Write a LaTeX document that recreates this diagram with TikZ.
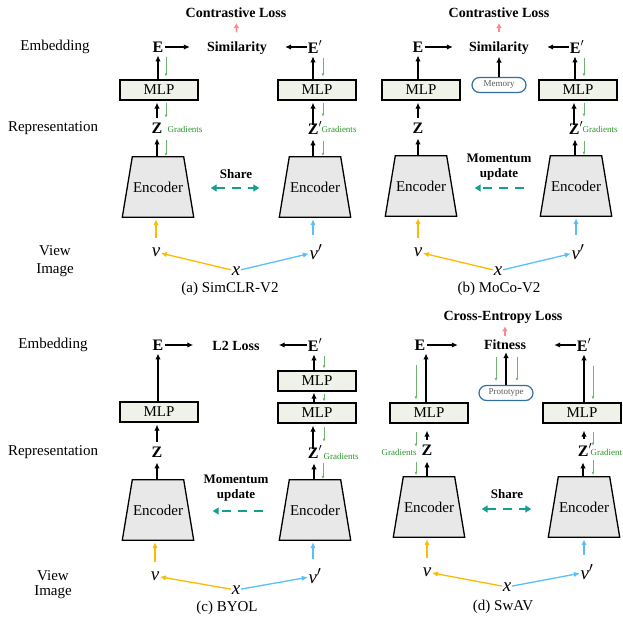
\documentclass[tikz,border=0pt]{standalone}
\usepackage{fontspec}
\setmainfont{Liberation Serif}
\usetikzlibrary{arrows.meta,calc}
\pgfdeclarelayer{background}
\pgfsetlayers{background,main}
\definecolor{ylw}{RGB}{255,185,0}
\definecolor{blu}{RGB}{90,190,250}
\definecolor{tealc}{RGB}{20,160,145}
\definecolor{pnkc}{RGB}{248,140,140}
\definecolor{grnar}{RGB}{110,180,110}
\definecolor{grntx}{RGB}{40,150,40}
\definecolor{encfill}{RGB}{232,232,232}
\definecolor{mlpfill}{RGB}{238,242,233}
\definecolor{pillc}{RGB}{50,110,160}
\definecolor{pilltx}{RGB}{90,90,90}
\newcommand\encshape[1]{%
  \begin{pgfonlayer}{background}
    \draw[encline] (#1.south west) -- (#1.south east) -- ($(#1.north east)+(-10,0)$) -- ($(#1.north west)+(10,0)$) -- cycle;
  \end{pgfonlayer}}
\begin{document}
\begin{tikzpicture}[x=1pt,y=-1pt,
  lbl/.style={font=\fontsize{15}{17}\selectfont, inner sep=1pt},
  bt/.style={font=\fontsize{14}{15}\selectfont\bfseries, inner sep=1pt},
  mt/.style={font=\fontsize{13}{15}\selectfont\bfseries, inner sep=1pt, align=center},
  vec/.style={font=\fontsize{16}{18}\selectfont\bfseries, inner sep=1pt},
  var/.style={font=\fontsize{19}{20}\selectfont\itshape, inner sep=0.5pt},
  grad/.style={font=\fontsize{9}{10}\selectfont, text=grntx, inner sep=0.5pt},
  mlp/.style={draw, line width=1.3pt, fill=mlpfill, minimum width=78pt, minimum height=20pt, inner sep=0pt, font=\fontsize{15}{17}\selectfont},
  enc/.style={rectangle, minimum width=71pt, minimum height=60pt, inner sep=0pt, font=\fontsize{15}{17}\selectfont},
  encline/.style={draw, line width=1.3pt, fill=encfill, line join=miter},
  pill/.style={draw=pillc, line width=1.2pt, rounded corners=7.5pt, minimum width=54pt, minimum height=15pt, inner sep=0pt, text=pilltx, font=\fontsize{9}{10}\selectfont},
  blk/.style={-{Latex[length=6pt,width=5.5pt]}, line width=1.3pt},
  grn/.style={-{Latex[length=3pt,width=3pt]}, line width=0.6pt, draw=grnar},
  ylwa/.style={-{Latex[length=6pt,width=5.5pt]}, line width=1.3pt, draw=ylw},
  blua/.style={-{Latex[length=6pt,width=5.5pt]}, line width=1.3pt, draw=blu},
  pnka/.style={-{Latex[length=5pt,width=6pt]}, line width=1.6pt, draw=pnkc},
  shr/.style={{Triangle[length=6pt,width=7pt]}-{Triangle[length=6pt,width=7pt]}, dash pattern=on 9pt off 7pt, line width=1.3pt, draw=tealc},
  mom/.style={-{Triangle[length=6pt,width=7pt]}, dash pattern=on 9pt off 7pt, line width=1.3pt, draw=tealc}
]
\useasboundingbox (0,0) rectangle (623,618);

% ================= (a) SimCLR-V2 =================
\node[lbl] (embA) at (55,47) {Embedding};
\node[lbl] (repA) at (53,128) {Representation};
\node[lbl] (viewA) at (55,251) {View};
\node[lbl] (imgA) at (55,270) {Image};

\node[bt] (lossA) at (236,13) {Contrastive Loss};
\node[bt] (simA) at (237,48) {Similarity};
\node[vec] (eA) at (158,47) {E};
\node[vec] (epA) at (315,47) {E$'$};
\draw[blk, shorten >=16pt] (eA.east) -- (eA.east -| simA.west);
\draw[blk, shorten >=17pt] (epA.west) -- (epA.west -| simA.east);
\draw[pnka, shorten <=8pt, shorten >=4pt] (simA.north) -- (lossA.south);

\node[mlp] (mlpA1) at (159,90) {MLP};
\node[mlp] (mlpA2) at (317,90) {MLP};
\node[vec] (zA) at (157,128) {Z};
\node[grad] (gA1) at (185,129) {Gradients};
\node[vec] (zpA) at (315,128) {Z$'$};
\node[grad] (gA2) at (339,129) {Gradients};
\node[enc] (encA1) at (158,187) {Encoder}; \encshape{encA1}
\node[enc] (encA2) at (315,187) {Encoder}; \encshape{encA2}
\node[bt, font=\fontsize{13}{15}\selectfont\bfseries] (shareA) at (236,174) {Share};
\draw[shr, shorten <=17pt, shorten >=20pt] ($(encA1.east)+(0,1)$) -- ($(encA2.west)+(0,1)$);

\draw[blk] (mlpA1.north -| eA) -- ($(eA.south)+(0,2)$);
\draw[blk, shorten <=4pt, shorten >=2pt] (zA.north) -- (zA.north |- mlpA1.south);
\draw[blk, shorten >=4pt] (encA1.north -| zA) -- (zA.south);
\draw[grn] ($(eA.south)+(8,4)$) -- ($(eA.south |- mlpA1.north)+(8,-3)$);
\draw[grn] ($(mlpA1.south)+(7,2)$) -- ($(mlpA1.south |- zA.north)+(7,-4)$);
\draw[grn] ($(zA.south)+(9,6)$) -- ($(zA.south |- encA1.north)+(9,-1)$);

\draw[blk] ($(mlpA2.north)+(-4,0)$) -- ($(mlpA2.north |- epA.south)+(-4,2)$);
\draw[blk] ($(zpA.north)+(-2,4)$) -- ($(zpA.north |- mlpA2.south)+(-2,2)$);
\draw[blk] ($(encA2.north)+(-2,0)$) -- ($(encA2.north |- zpA.south)+(-2,4)$);
\draw[grn] ($(epA.south)+(8,4)$) -- ($(epA.south |- mlpA2.north)+(8,-3)$);
\draw[grn] ($(mlpA2.south)+(6,2)$) -- ($(mlpA2.south |- zpA.north)+(6,-4)$);
\draw[grn] ($(zpA.south)+(8,6)$) -- ($(zpA.south |- encA2.north)+(8,-1)$);

\node[var] (vA) at (156,252) {v};
\node[var] (vpA) at (316,252) {v$'$};
\node[var] (xA) at (236,271) {x};
\draw[ylwa, shorten <=9pt, shorten >=2pt] (vA.north) -- (vA.north |- encA1.south);
\draw[blua, shorten <=9pt, shorten >=2pt] ($(vpA.north)+(-3,0)$) -- ($(vpA.north |- encA2.south)+(-3,0)$);
\draw[ylwa] (xA) -- (vA);
\draw[blua] (xA) -- (vpA);
\node[lbl] (capA) at (230,289) {(a) SimCLR-V2};

% ================= (b) MoCo-V2 =================
\node[bt] (lossB) at (499,13) {Contrastive Loss};
\node[bt] (simB) at (499,48) {Similarity};
\node[vec] (eB) at (418,47) {E};
\node[vec] (epB) at (577,47) {E$'$};
\draw[blk, shorten >=15pt] (eB.east) -- (eB.east -| simB.west);
\draw[blk, shorten >=17pt] (epB.west) -- (epB.west -| simB.east);
\draw[pnka, shorten <=8pt, shorten >=4pt] (simB.north) -- (lossB.south);

\node[mlp] (mlpB1) at (421,90) {MLP};
\node[mlp] (mlpB2) at (578,90) {MLP};
\node[pill] (memB) at (499,85) {Memory};
\draw[blk] (memB.north) -- ($(memB.north |- simB.south)+(0,1)$);
\node[vec] (zB) at (418,128) {Z};
\node[vec] (zpB) at (576,128) {Z$'$};
\node[grad] (gB2) at (600,129) {Gradients};
\node[enc] (encB1) at (421,186) {Encoder}; \encshape{encB1}
\node[enc] (encB2) at (576,186) {Encoder}; \encshape{encB2}
\node[mt] (momB) at (499,167) {Momentum\\update};
\draw[mom, shorten <=16pt, shorten >=18pt] ($(encB2.west)+(0,2)$) -- ($(encB1.east)+(0,2)$);

\draw[blk] (mlpB1.north -| eB) -- ($(eB.south)+(0,2)$);
\draw[blk, shorten <=4pt, shorten >=2pt] (zB.north) -- (zB.north |- mlpB1.south);
\draw[blk, shorten >=4pt] (encB1.north -| zB) -- (zB.south);

\draw[blk] ($(mlpB2.north)+(-3,0)$) -- ($(mlpB2.north |- epB.south)+(-3,2)$);
\draw[blk] ($(zpB.north)+(-2,4)$) -- ($(zpB.north |- mlpB2.south)+(-2,2)$);
\draw[blk] ($(encB2.north)+(-1,0)$) -- ($(encB2.north |- zpB.south)+(-1,4)$);
\draw[grn] ($(epB.south)+(7,4)$) -- ($(epB.south |- mlpB2.north)+(7,-3)$);
\draw[grn] ($(mlpB2.south)+(6,2)$) -- ($(mlpB2.south |- zpB.north)+(6,-4)$);
\draw[grn] ($(zpB.south)+(8,6)$) -- ($(zpB.south |- encB2.north)+(8,-1)$);

\node[var] (vB) at (418,252) {v};
\node[var] (vpB) at (578,252) {v$'$};
\node[var] (xB) at (498,271) {x};
\draw[ylwa, shorten <=9pt, shorten >=2pt] (vB.north) -- (vB.north |- encB1.south);
\draw[blua, shorten <=9pt, shorten >=2pt] ($(vpB.north)+(-2,0)$) -- ($(vpB.north |- encB2.south)+(-2,0)$);
\draw[ylwa] (xB) -- (vB);
\draw[blua] (xB) -- (vpB);
\node[lbl] (capB) at (499,289) {(b) MoCo-V2};

% ================= (c) BYOL =================
\node[lbl] (embC) at (53,345) {Embedding};
\node[lbl] (repC) at (53,452) {Representation};
\node[lbl] (viewC) at (53,576) {View};
\node[lbl] (imgC) at (53,592) {Image};

\node[vec] (eC) at (158,345) {E};
\node[bt] (l2C) at (236,346) {L2 Loss};
\node[vec] (epC) at (315,345) {E$'$};
\draw[blk, shorten >=18pt] (eC.east) -- (eC.east -| l2C.west);
\draw[blk, shorten >=18pt] (epC.west) -- (epC.west -| l2C.east);

\node[mlp] (mlpC1) at (159,412) {MLP};
\node[mlp] (mlpC2) at (317,381) {MLP};
\node[mlp] (mlpC3) at (317,413) {MLP};
\node[vec] (zC) at (157,452) {Z};
\node[vec] (zpC) at (315,452) {Z$'$};
\node[grad] (gC) at (341,456) {Gradients};
\node[enc] (encC1) at (158,510) {Encoder}; \encshape{encC1}
\node[enc] (encC2) at (315,510) {Encoder}; \encshape{encC2}
\node[mt] (momC) at (236,488) {Momentum\\update};
\draw[mom, shorten <=16pt, shorten >=19pt] ($(encC2.west)+(0,1)$) -- ($(encC1.east)+(0,1)$);

\draw[blk] (mlpC1.north -| eC) -- ($(eC.south)+(0,2)$);
\draw[blk, shorten <=4pt, shorten >=2pt] (zC.north) -- (zC.north |- mlpC1.south);
\draw[blk, shorten >=4pt] (encC1.north -| zC) -- (zC.south);

\draw[blk] ($(mlpC2.north)+(-3,0)$) -- ($(mlpC2.north |- epC.south)+(-3,2)$);
\draw[blk] ($(mlpC3.north)+(-3,0)$) -- ($(mlpC3.north |- mlpC2.south)+(-3,1)$);
\draw[blk] ($(zpC.north)+(-2,4)$) -- ($(zpC.north |- mlpC3.south)+(-2,2)$);
\draw[blk] ($(encC2.north)+(-1,0)$) -- ($(encC2.north |- zpC.south)+(-1,4)$);
\draw[grn] ($(epC.south)+(9,4)$) -- ($(epC.south |- mlpC2.north)+(9,-2)$);
\draw[grn] ($(mlpC2.south)+(7,2)$) -- ($(mlpC2.south |- mlpC3.north)+(7,-1)$);
\draw[grn] ($(mlpC3.south)+(7,3)$) -- ($(mlpC3.south |- zpC.north)+(7,-3)$);
\draw[grn] ($(zpC.south)+(8,4)$) -- ($(zpC.south |- encC2.north)+(8,-1)$);

\node[var] (vC) at (155,576) {v};
\node[var] (vpC) at (315,576) {v$'$};
\node[var] (xC) at (236,590) {x};
\draw[ylwa, shorten <=9pt, shorten >=2pt] (vC.north) -- (vC.north |- encC1.south);
\draw[blua, shorten <=9pt, shorten >=2pt] ($(vpC.north)+(-2,0)$) -- ($(vpC.north |- encC2.south)+(-2,0)$);
\draw[ylwa] (xC) -- (vC);
\draw[blua] (xC) -- (vpC);
\node[lbl] (capC) at (227,608) {(c) BYOL};

% ================= (d) SwAV =================
\node[bt] (ceD) at (503,317) {Cross-Entropy Loss};
\node[bt] (fitD) at (505,345) {Fitness};
\node[vec] (eD) at (420,345) {E};
\node[vec] (epD) at (584,345) {E$'$};
\draw[blk, shorten >=25pt] (eD.east) -- (eD.east -| fitD.west);
\draw[blk, shorten >=27pt] (epD.west) -- (epD.west -| fitD.east);
\draw[pnka, shorten <=3pt, shorten >=2pt] (fitD.north) -- (fitD.north |- ceD.south);

\node[pill] (protoD) at (506,393) {Prototype};
\draw[blk] (protoD.north) -- ($(protoD.north |- fitD.south)+(0,1)$);
\draw[grn] ($(fitD.south)+(-9,6)$) -- ($(fitD.south |- protoD.north)+(-9,-4)$);
\draw[grn] ($(fitD.south)+(12,6)$) -- ($(fitD.south |- protoD.north)+(12,-4)$);

\node[mlp] (mlpD1) at (429,413) {MLP};
\node[mlp] (mlpD2) at (582,413) {MLP};
\node[vec] (zD) at (427,450) {Z};
\node[grad] (gD1) at (399,452) {Gradients};
\node[vec] (zpD) at (585,450) {Z$'$};
\node[grad, anchor=west] (gD2) at (590,452) {Gradient};
\node[enc] (encD1) at (429,507) {Encoder}; \encshape{encD1}
\node[enc] (encD2) at (584,507) {Encoder}; \encshape{encD2}
\node[bt, font=\fontsize{13}{15}\selectfont\bfseries] (shareD) at (507,494) {Share};
\draw[shr, shorten <=17pt, shorten >=17pt] ($(encD1.east)+(0,2)$) -- ($(encD2.west)+(0,2)$);

\draw[blk] ($(mlpD1.north)+(-3,0)$) -- ($(mlpD1.north |- eD.south)+(-3,2)$);
\draw[grn] ($(eD.south)+(-4,14)$) -- ($(eD.south |- mlpD1.north)+(-4,-3)$);
\draw[blk, shorten <=4pt] (zD.north) -- ($(zD.north |- mlpD1.south)+(0,7)$);
\draw[grn] ($(mlpD1.south)+(-13,8)$) -- ($(mlpD1.south |- zD.north)+(-13,3)$);
\draw[blk, shorten >=4pt] (encD1.north -| zD) -- ($(zD.south)+(0,1)$);
\draw[grn] ($(zD.south)+(-11,6)$) -- ($(zD.south |- encD1.north)+(-11,-2)$);

\draw[blk] ($(mlpD2.north)+(2,0)$) -- ($(mlpD2.north |- epD.south)+(2,2)$);
\draw[grn] ($(epD.south)+(9,14)$) -- ($(epD.south |- mlpD2.north)+(9,-3)$);
\draw[blk, shorten <=4pt] ($(zpD.north)+(-1,0)$) -- ($(zpD.north |- mlpD2.south)+(-1,7)$);
\draw[grn] ($(mlpD2.south)+(11,8)$) -- ($(mlpD2.south |- zpD.north)+(11,3)$);
\draw[blk, shorten >=4pt] ($(encD2.north)+(-1,0)$) -- ($(encD2.north |- zpD.south)+(-1,1)$);
\draw[grn] ($(zpD.south)+(8,3)$) -- ($(zpD.south |- encD2.north)+(8,-2)$);

\node[var] (vD) at (427,572) {v};
\node[var] (vpD) at (587,572) {v$'$};
\node[var] (xD) at (507,587) {x};
\draw[ylwa, shorten <=9pt, shorten >=2pt] (vD.north) -- (vD.north |- encD1.south);
\draw[blua, shorten <=9pt, shorten >=2pt] ($(vpD.north)+(-3,0)$) -- ($(vpD.north |- encD2.south)+(-3,0)$);
\draw[ylwa] (xD) -- (vD);
\draw[blua] (xD) -- (vpD);
\node[lbl] (capD) at (503,607) {(d) SwAV};
\end{tikzpicture}
\end{document}
